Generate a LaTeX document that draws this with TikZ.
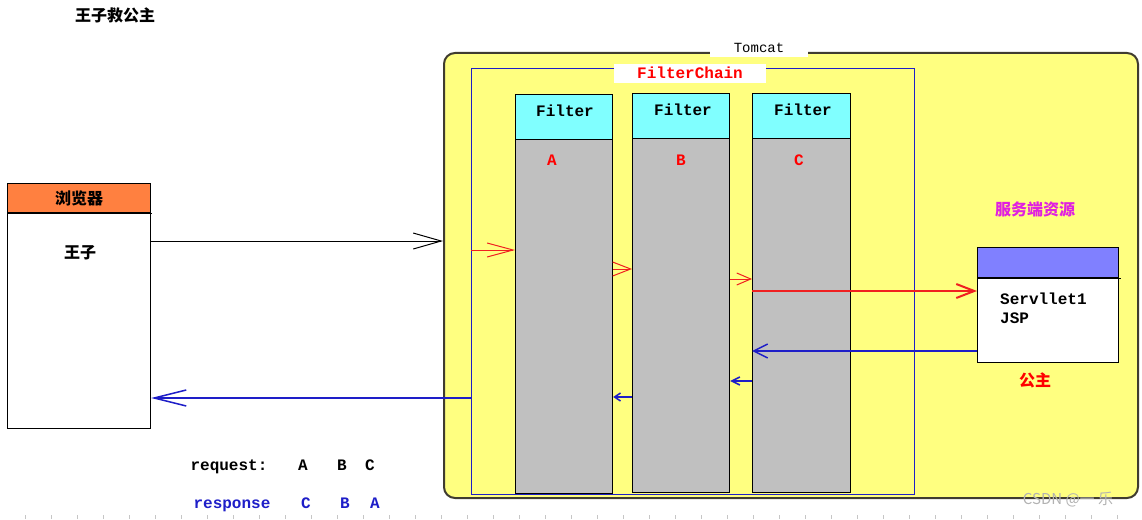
\documentclass[tikz,border=0pt]{standalone}
\usepackage{fontspec}
\setmonofont{Liberation Mono}
\newfontfamily\cjk{Noto Sans CJK SC}
\usetikzlibrary{arrows.meta}
\definecolor{orangeh}{HTML}{FF8040}
\definecolor{tomyellow}{HTML}{FFFF80}
\definecolor{cyanh}{HTML}{80FFFF}
\definecolor{grayb}{HTML}{C0C0C0}
\definecolor{servh}{HTML}{8080FF}
\definecolor{chainblue}{HTML}{1E1EC8}
\definecolor{reqred}{HTML}{F02020}
\definecolor{tomborder}{HTML}{403C30}
\definecolor{magtext}{HTML}{E020E0}
\begin{document}
\begin{tikzpicture}[x=1pt,y=-1pt,
  box/.style={draw=black, line width=1.2pt, inner sep=0pt, anchor=north west},
  cjkb/.style={font=\cjk\bfseries\fontsize{16}{18}\selectfont},
  monob/.style={font=\ttfamily\bfseries\fontsize{16}{18}\selectfont},
  legend/.style={monob, anchor=base},
  labelbg/.style={fill=white, inner sep=0pt},
  reqarrow/.style={draw=reqred, line width=1pt, -{Straight Barb[length=14pt,width=12pt]}},
  resparrow/.style={draw=chainblue, line width=1.5pt, -{Straight Barb[length=14pt,width=14pt]}},
]
\useasboundingbox (0,0) rectangle (1142,519);

% title
\node[cjkb] (title) at (115,15) {王子救公主};

% browser
\node[box, fill=orangeh, minimum width=143pt, minimum height=29pt, cjkb] (bh) at (7,183) {浏览器};
\node[box, fill=white, minimum width=143pt, minimum height=216pt] (bb) at (7,212) {};
\draw[line width=1.2pt] (bh.south west) -- ++(145,0);
\node[cjkb] (prince) at (80,253) {王子};

% tomcat
\node[draw=tomborder, line width=2pt, fill=tomyellow, rounded corners=11pt,
      minimum width=694pt, minimum height=445pt, anchor=north west, inner sep=0pt] (tomcat) at (443,52) {};
\node[labelbg, minimum width=98pt, minimum height=18pt, font=\ttfamily\fontsize{14}{16}\selectfont] (tomlabel) at (759,48) {Tomcat};

% filter chain
\node[draw=chainblue, line width=1pt, minimum width=443pt, minimum height=426pt, anchor=north west, inner sep=0pt] (chain) at (471,68) {};
\node[labelbg, minimum width=152pt, minimum height=19pt, monob, text=red] (chainlabel) at (690,73) {FilterChain};

% filters
\node[box, fill=cyanh, minimum width=97pt, minimum height=45pt] (fAh) at (515,94) {};
\node[box, fill=grayb, minimum width=97pt, minimum height=354pt] (fAb) at (515,139) {};
\node[box, fill=cyanh, minimum width=97pt, minimum height=45pt] (fBh) at (632,93) {};
\node[box, fill=grayb, minimum width=97pt, minimum height=354pt] (fBb) at (632,138) {};
\node[box, fill=cyanh, minimum width=98pt, minimum height=45pt] (fCh) at (752,93) {};
\node[box, fill=grayb, minimum width=98pt, minimum height=354pt] (fCb) at (752,138) {};
\node[monob] (fAt) at (565,111) {Filter};
\node[monob] (fBt) at (683,110) {Filter};
\node[monob] (fCt) at (803,110) {Filter};
\node[monob, text=red] (la) at (552,160) {A};
\node[monob, text=red] (lb) at (681,160) {B};
\node[monob, text=red] (lc) at (799,160) {C};

% server resource
\node[cjkb, text=magtext] (srvtitle) at (1035,209) {服务端资源};
\node[box, fill=servh, minimum width=141pt, minimum height=30pt] (sh) at (977,247) {};
\node[box, fill=white, minimum width=141pt, minimum height=85pt] (sb) at (977,277) {};
\draw[line width=1.2pt] (sh.south west) -- ++(144,0);
\node[monob, align=left, anchor=north west, inner sep=0pt] (srvtext) at (1000,293) {Servllet1\\[1pt]JSP};
\node[cjkb, text=red] (princess) at (1035,380) {公主};

% request arrows
\draw[draw=black, line width=1pt, -{Straight Barb[length=28pt,width=16pt]}] (bb.east |- 0,241) -- (tomcat.west |- 0,241);
\draw[reqarrow, -{Straight Barb[length=26pt,width=14pt]}] (chain.west |- 0,250) -- (fAb.west |- 0,250);
\draw[reqarrow, -{Straight Barb[length=18pt,width=14pt]}] (fAb.east |- 0,269) -- (fBb.west |- 0,269);
\draw[reqarrow, -{Straight Barb[length=14pt,width=12pt]}] (fBb.east |- 0,279) -- (fCb.west |- 0,279);
\draw[reqarrow, line width=2pt, -{Straight Barb[length=18pt,width=14pt]}] (fCb.west |- 0,291) -- (sb.west |- 0,291);

% response arrows
\draw[resparrow] (sb.west |- 0,351) -- (fCb.west |- 0,351);
\draw[resparrow, -{Straight Barb[length=8pt,width=8pt]}] (fCb.west |- 0,381) -- (fBb.east |- 0,381);
\draw[resparrow, -{Straight Barb[length=6pt,width=8pt]}] (fBb.west |- 0,397) -- (fAb.east |- 0,397);
\draw[resparrow, -{Straight Barb[length=32pt,width=16pt]}] (chain.west |- 0,398) -- (bb.east |- 0,398);

% legend
\node[legend] (reqlbl) at (229,470) {request:};
\node[legend] (reqa) at (303,470) {A};
\node[legend] (reqb) at (342,470) {B};
\node[legend] (reqc) at (370,470) {C};
\node[legend, text=chainblue] (reslbl) at (232,508) {response};
\node[legend, text=chainblue] (resc) at (306,508) {C};
\node[legend, text=chainblue] (resb) at (345,508) {B};
\node[legend, text=chainblue] (resa) at (375,508) {A};

% bottom ticks and watermark
\draw[gray!45, line width=4pt, dash pattern=on 1pt off 25pt] (25,517) -- (1142,517);
\node[font=\cjk\fontsize{15}{17}\selectfont, text=gray!60] (wm) at (1068,500) {CSDN @一 乐};
\end{tikzpicture}
\end{document}
